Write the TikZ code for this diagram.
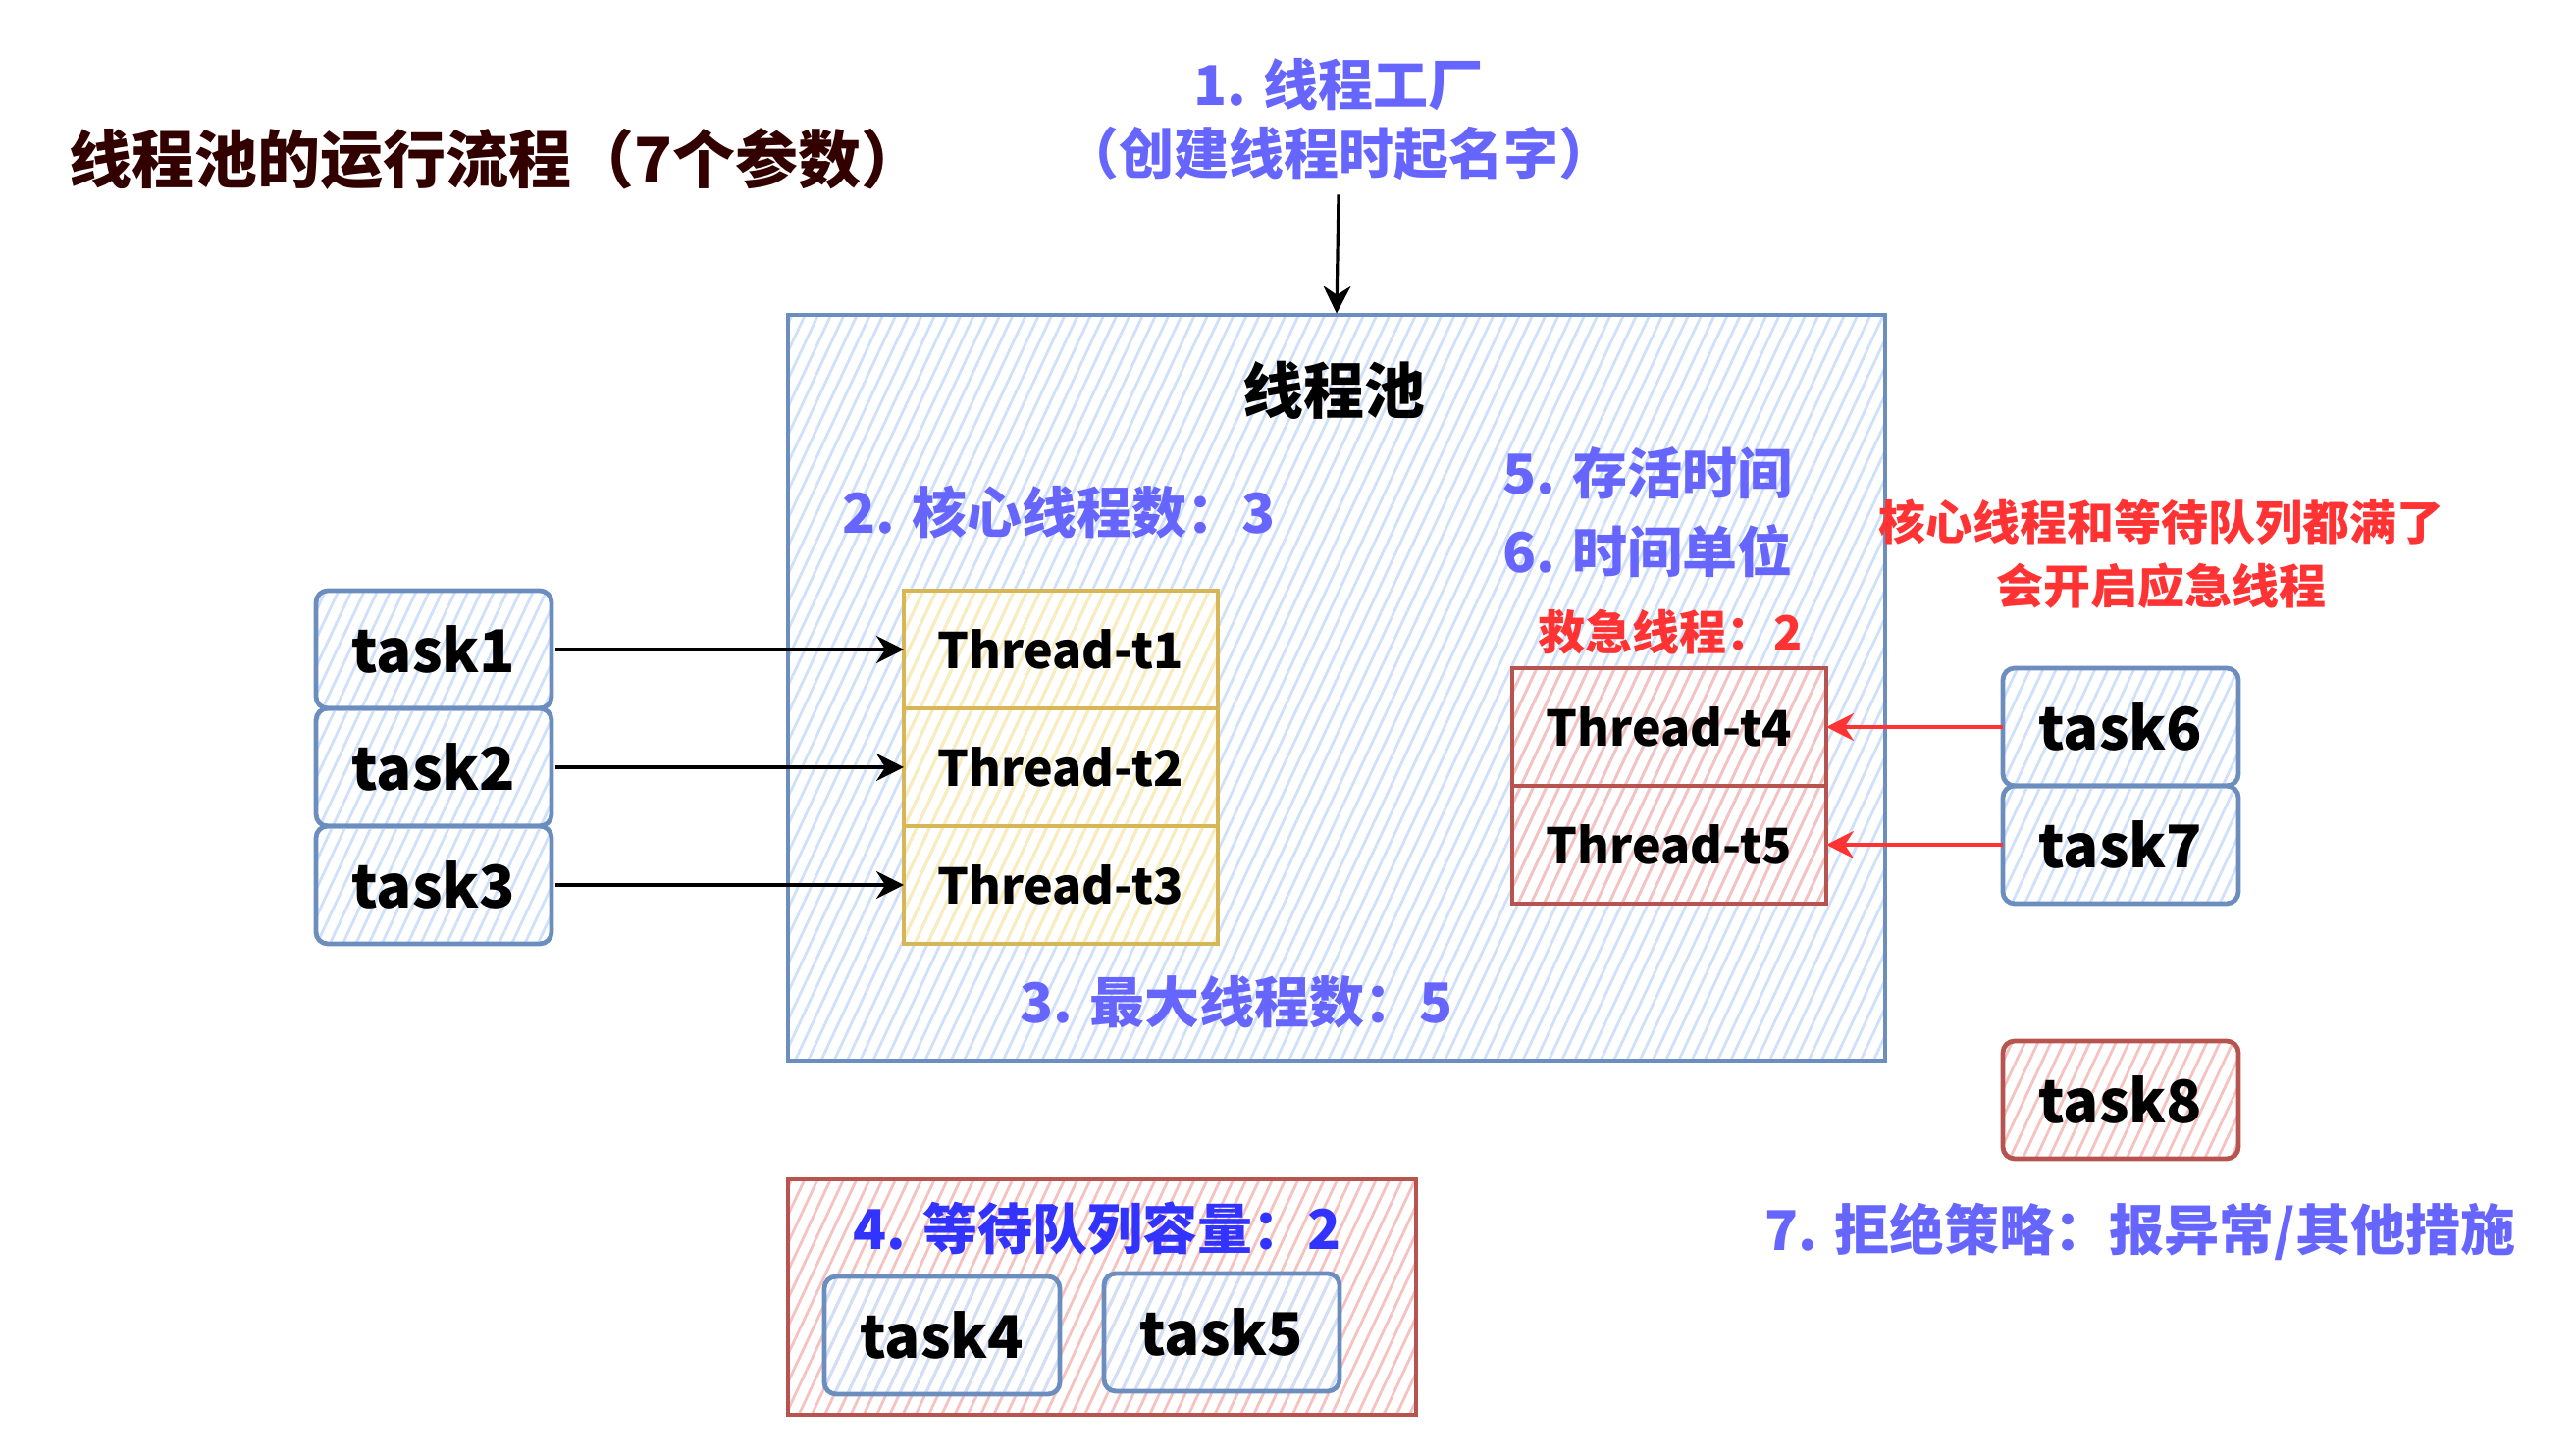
\documentclass[tikz,border=0pt]{standalone}
\usepackage{fontspec}
\setmainfont{Noto Sans CJK SC}
\usetikzlibrary{positioning,arrows.meta,patterns.meta}
\definecolor{poolblue}{HTML}{6C8EBF}
\definecolor{hatchblue}{HTML}{CFE0FA}
\definecolor{coreyellow}{HTML}{D6B656}
\definecolor{hatchyellow}{HTML}{FCECB8}
\definecolor{sparered}{HTML}{B85450}
\definecolor{hatchred}{HTML}{F5C2C0}
\definecolor{labelblue}{HTML}{6666FF}
\definecolor{queueblue}{HTML}{3333FF}
\definecolor{alertred}{HTML}{FF3333}
\definecolor{titlebrown}{HTML}{330000}

\begin{document}
\begin{tikzpicture}[x=0.25pt, y=-0.25pt,
    hatch/.style={pattern={Lines[angle=65,distance=3pt,line width=0.7pt]}, pattern color=#1},
    taskbox/.style={draw=#1, line width=1.2pt, rounded corners=3pt, minimum width=60pt,
        minimum height=30pt, outer sep=0pt, font=\fontsize{15}{18}\selectfont\bfseries},
    threadbox/.style={draw=#1, line width=1.2pt, minimum width=80pt, minimum height=30pt,
        outer sep=0pt, font=\fontsize{12.5}{15}\selectfont\bfseries},
    note/.style={text=labelblue, font=\fontsize{14}{17.5}\selectfont\bfseries},
    alert/.style={text=alertred, font=\fontsize{12}{16.25}\selectfont\bfseries, align=center},
    arr/.style={-{Stealth[length=7pt,width=7pt]}, line width=0.8pt}
]
    \useasboundingbox (0,0) rectangle (2624,1484);
    % Title
    \node[anchor=west, inner sep=0pt, text=titlebrown, font=\fontsize{16}{20}\selectfont\bfseries] (title) at (70,162)
        {线程池的运行流程（7个参数）};
    \node[note, align=center] (factory) at (1364,122) {1. 线程工厂\\（创建线程时起名字）};
    % Pool
    \node[draw=poolblue, line width=1.2pt, hatch=hatchblue, minimum width=279.5pt, minimum height=190pt] (pool) at (1362,701) {};
    \node[font=\fontsize{15.5}{18}\selectfont\bfseries] (pooltitle) at (1359,398) {线程池};
    \node[note] (corenum) at (1079,522) {2. 核心线程数：3};
    \node[note] (keepalive) at (1679,482) {5. 存活时间};
    \node[note] (timeunit) at (1679,562) {6. 时间单位};
    \node[alert] (sparenum) at (1702,644) {救急线程：2};
    \node[note] (maxnum) at (1260,1021) {3. 最大线程数：5};
    % Core threads
    \node[threadbox=coreyellow, hatch=hatchyellow] (t1) at (1081,662) {Thread-t1};
    \node[threadbox=coreyellow, hatch=hatchyellow, below=0pt of t1] (t2) {Thread-t2};
    \node[threadbox=coreyellow, hatch=hatchyellow, below=0pt of t2] (t3) {Thread-t3};
    % Spare threads
    \node[threadbox=sparered, hatch=hatchred] (t4) at (1701,741) {Thread-t4};
    \node[threadbox=sparered, hatch=hatchred, below=0pt of t4] (t5) {Thread-t5};
    % Tasks
    \node[taskbox=poolblue, hatch=hatchblue] (task1) at (442,662) {task1};
    \node[taskbox=poolblue, hatch=hatchblue, below=0pt of task1] (task2) {task2};
    \node[taskbox=poolblue, hatch=hatchblue, below=0pt of task2] (task3) {task3};
    \node[taskbox=poolblue, hatch=hatchblue] (task6) at (2161,741) {task6};
    \node[taskbox=poolblue, hatch=hatchblue, below=0pt of task6] (task7) {task7};
    \node[taskbox=sparered, hatch=hatchred] (task8) at (2161,1121) {task8};
    \node[alert] (fullnote) at (2202,565) {核心线程和等待队列都满了\\会开启应急线程};
    % Queue
    \node[draw=sparered, line width=1.2pt, hatch=hatchred, minimum width=160pt, minimum height=60pt] (queue) at (1123,1322) {};
    \node[note, text=queueblue] (queuecap) at (1118,1252) {4. 等待队列容量：2};
    \node[taskbox=poolblue, hatch=hatchblue] (task4) at (960,1361) {task4};
    \node[taskbox=poolblue, hatch=hatchblue] (task5) at (1245,1358) {task5};
    \node[note] (reject) at (2181,1255) {7. 拒绝策略：报异常/其他措施};
    % Connectors
    \draw[arr] (factory.south) -- (pool.north);
    \foreach \i in {1,2,3} {
        \draw[arr] ([xshift=1pt]task\i.east) -- (t\i.west);
    }
    \draw[arr, alertred] (task6.west) -- (t4.east);
    \draw[arr, alertred] (task7.west) -- (t5.east);
\end{tikzpicture}
\end{document}
